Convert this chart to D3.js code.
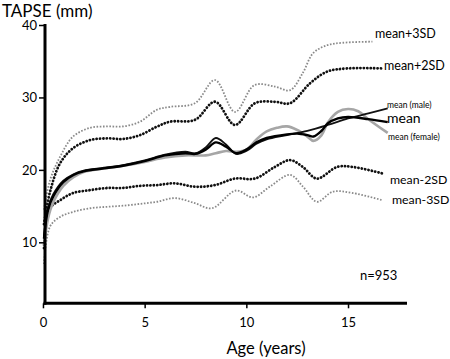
<!DOCTYPE html>
<html><head><meta charset="utf-8">
<script src="https://cdn.jsdelivr.net/npm/d3@7"></script>
<style>
html,body{margin:0;padding:0;background:#fff;}
svg text{font-family:Lato,"Open Sans",sans-serif;fill:#000;}
</style></head>
<body><svg id="c" width="450" height="359"></svg>
<script>
// [age (years), TAPSE (mm)]
const plus3SD = [[0.05,14.5],[0.35,18.6],[0.84,21.8],[1.48,24.6],[2.31,25.8],[3.15,26.0],[3.93,26.0],[4.77,26.65],[5.6,28.3],[6.25,28.7],[7.47,29.2],[8.46,32.4],[9.44,28.0],[10.4,31.7],[11.4,31.5],[12.15,31.0],[12.78,33.4],[13.28,36.1],[13.96,37.2],[14.75,37.55],[16.2,37.7]];
const plus2SD = [[0.05,12.5],[0.35,17.0],[0.84,20.9],[1.48,23.0],[2.31,24.1],[3.15,24.35],[3.93,24.26],[4.77,24.8],[5.6,25.96],[6.25,26.65],[7.47,26.9],[8.46,29.4],[9.44,26.2],[10.42,29.2],[11.4,29.4],[12.15,29.2],[13.13,31.95],[13.96,33.55],[14.95,34.0],[16.7,34.0]];
const meanAll = [[0.05,10.5],[0.25,14.5],[0.5,16.3],[1,18.3],[1.5,19.3],[2,19.8],[3,20.2],[4,20.6],[5,21.2],[6,22.0],[7,22.3],[7.5,22.2],[8,22.8],[8.5,23.8],[9,23.2],[9.5,22.3],[10,22.8],[10.5,23.8],[11,24.4],[12,24.9],[12.5,25.0],[13,24.8],[13.3,24.6],[13.7,25.4],[14,26.4],[14.5,27.1],[15,27.3],[16,27.0],[16.95,26.6]];
const meanMale = [[0.05,10.8],[0.25,14.8],[0.5,16.6],[1,18.5],[1.5,19.4],[2,19.9],[3,20.3],[4,20.7],[5,21.3],[6,22.1],[7,22.5],[7.5,22.3],[8,23.1],[8.5,24.4],[9,23.5],[9.5,22.2],[10,22.6],[10.5,23.6],[11,24.2],[12,24.8],[13,25.4],[14,26.2],[15,27.1],[16,27.8],[16.95,28.5]];
const meanFemale = [[0.05,9.5],[0.25,13.3],[0.5,15.5],[1,17.8],[1.5,19.0],[2,19.7],[3,20.2],[4,20.6],[5,21.1],[6,21.7],[7,22.0],[8,22.0],[8.5,22.3],[9,22.6],[9.5,22.5],[10,22.8],[10.5,24.2],[11,25.3],[11.5,25.8],[12,26.0],[12.5,25.5],[13,24.6],[13.3,24.0],[13.7,24.8],[14,26.5],[14.5,28.0],[15,28.4],[15.5,28.1],[16,27.0],[16.95,25.1]];
const minus2SD = [[0.05,9.2],[0.35,14.7],[0.84,15.8],[1.48,16.8],[2.31,17.2],[3.15,17.5],[3.93,17.5],[4.77,17.8],[5.6,17.9],[6.49,18.14],[7.47,17.67],[8.46,17.9],[9.44,18.8],[10.42,18.8],[11.4,20.4],[12.15,21.35],[12.78,20.4],[13.47,18.8],[14.46,20.4],[15.24,20.4],[16.7,19.5]];
const minus3SD = [[0.05,7.0],[0.35,12.2],[0.84,13.5],[1.48,14.2],[2.31,14.7],[3.15,14.9],[3.93,15.05],[4.77,15.3],[5.6,15.6],[6.49,16.1],[7.47,15.4],[8.31,14.7],[9.49,17.15],[10.33,16.2],[11.16,17.7],[12.15,19.3],[12.78,17.7],[13.47,15.6],[14.26,17.0],[15.24,16.8],[16.7,15.8]];
const xTicks = [0,5,10,15];
const yTicks = [10,20,30,40];
const lineLabels = ["mean+3SD","mean+2SD","mean (male)","mean","mean (female)","mean-2SD","mean-3SD"];

const svg = d3.select("#c");
const x = d3.scaleLinear().domain([0.1,17.9]).range([45,407]);
const y = d3.scaleLinear().domain([1.58,40]).range([303.3,25]);

const line = d3.line().x(d=>x(d[0])).y(d=>y(d[1])).curve(d3.curveCatmullRom.alpha(0.5));

function draw(data, color, w, dash, cap){
  svg.append("path").datum(data).attr("d",line)
    .attr("fill","none").attr("stroke",color).attr("stroke-width",w)
    .attr("stroke-dasharray",dash||null).attr("stroke-linecap",cap||"butt");
}
draw(plus3SD,"#8a8a8a",1.8,"1.6,1.6");
draw(minus3SD,"#8a8a8a",1.8,"1.6,1.6");
draw(plus2SD,"#111",2.8,"0.1,3.3","round");
draw(minus2SD,"#111",2.8,"0.1,3.3","round");
draw(meanFemale,"#a6a6a6",2.6);
draw(meanMale,"#111",1.8);
draw(meanAll,"#000",2.4);

// axes
const yAxis = d3.axisLeft(y).tickValues(yTicks).tickSize(6).tickPadding(2).tickFormat(d3.format("d"));
const gy = svg.append("g").attr("transform","translate(45,0)").call(yAxis);
gy.select(".domain").remove();
gy.selectAll(".tick line").attr("stroke","#000").attr("stroke-width",1.5);
gy.selectAll(".tick text").attr("font-size",13).style("font-family","Lato, sans-serif");
svg.append("line").attr("x1",45).attr("x2",45).attr("y1",y(40)-1).attr("y2",y(1.58)+1.5).attr("stroke","#000").attr("stroke-width",3);

const xAxis = d3.axisBottom(x).tickValues(xTicks).tickSize(5).tickPadding(9).tickFormat(d3.format("d"));
const gx = svg.append("g").attr("transform","translate(0,303.3)").call(xAxis);
gx.select(".domain").remove();
gx.selectAll(".tick line").attr("stroke","#000").attr("stroke-width",1.5);
gx.selectAll(".tick text").attr("font-size",13).style("font-family","Lato, sans-serif");
svg.append("line").attr("x1",43.5).attr("x2",407).attr("y1",303.3).attr("y2",303.3).attr("stroke","#000").attr("stroke-width",3);

// titles
svg.append("text").attr("x",2).attr("y",17).attr("font-size",17).text("TAPSE (mm)");
svg.append("text").attr("x",266).attr("y",354).attr("font-size",16.5).attr("text-anchor","middle").text("Age (years)");
svg.append("text").attr("x",360).attr("y",280).attr("font-size",13).text("n=953");

// line labels
const lp = [[375,38,12.5],[384,70,12.5],[387,108,8.5],[387,123,14],[388,140,8.5],[390,184,12.3],[392,204,12.3]];
lineLabels.forEach((t,i)=>{
  svg.append("text").attr("x",lp[i][0]).attr("y",lp[i][1]).attr("font-size",lp[i][2]).text(t);
});
</script></body></html>
